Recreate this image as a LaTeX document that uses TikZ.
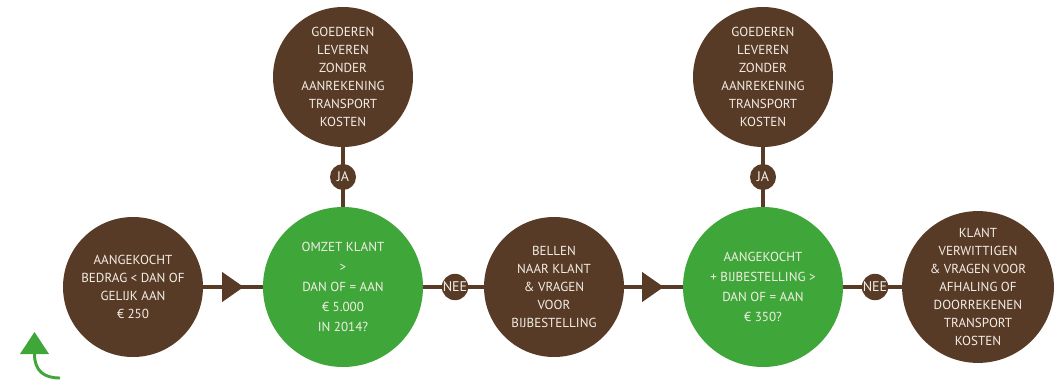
\documentclass[tikz,border=0pt]{standalone}
\usepackage{fontspec}
\setmainfont{PT Sans}
\usetikzlibrary{shapes.geometric, backgrounds, positioning}

\definecolor{bruin}{HTML}{573B26}
\definecolor{groen}{HTML}{3FA63A}
\definecolor{tekst}{HTML}{F4EEE6}

\tikzset{
  stap/.style={circle, fill=bruin, text=tekst, align=center, inner sep=0pt,
    minimum size=105pt, font=\fontsize{9.8}{13.5}\selectfont},
  vraag/.style={circle, fill=groen, text=tekst, align=center, inner sep=0pt,
    minimum size=120pt, font=\fontsize{9.8}{15}\selectfont},
  antw/.style={circle, fill=bruin, text=tekst, inner sep=0pt,
    minimum size=19.5pt, font=\fontsize{10.5}{11}\selectfont},
  pijl/.style={isosceles triangle, isosceles triangle apex angle=70, fill=bruin,
    inner sep=0pt, minimum height=15.75pt, minimum width=22.5pt},
  lijn/.style={draw=bruin, line width=3pt}
}

\begin{document}
\begin{tikzpicture}[x=0.75pt, y=0.75pt]

\useasboundingbox (0,0) rectangle (1057,380);

% onderste rij
\node[stap] (aankoop) at (133,93) {AANGEKOCHT\\BEDRAG < DAN OF\\GELIJK AAN\\€ 250};
\node[vraag] (omzet) at (343,93) {OMZET KLANT\\>\\DAN OF = AAN\\€ 5.000\\IN 2014?};
\node[antw] (nee1) at (455,93) {NEE};
\node[stap] (bellen) at (554,93) {BELLEN\\NAAR KLANT\\\& VRAGEN\\VOOR\\BIJBESTELLING};
\node[vraag] (bijbest) at (763,93) {AANGEKOCHT\\+ BIJBESTELLING >\\DAN OF = AAN\\€ 350?};
\node[antw] (nee2) at (875,93) {NEE};
\node[stap, minimum size=111pt] (verwit) at (978,93) {KLANT\\VERWITTIGEN\\\& VRAGEN VOOR\\AFHALING OF\\DOORREKENEN\\TRANSPORT\\KOSTEN};

% bovenste rij
\node[stap] (lever1) at (343,303) {GOEDEREN\\LEVEREN\\ZONDER\\AANREKENING\\TRANSPORT\\KOSTEN};
\node[antw] (ja1) at (343,203) {JA};
\node[stap] (lever2) at (763,303) {GOEDEREN\\LEVEREN\\ZONDER\\AANREKENING\\TRANSPORT\\KOSTEN};
\node[antw] (ja2) at (763,203) {JA};

% pijlpunten
\node[pijl] (p1) at (230,93) {};
\node[pijl] (p2) at (650,93) {};

\begin{scope}[on background layer]
\draw[lijn] (aankoop.center) -- (omzet.center);
\draw[lijn] (omzet.center) -- (nee1.center) -- (bellen.center);
\draw[lijn] (bellen.center) -- (bijbest.center);
\draw[lijn] (bijbest.center) -- (nee2.center) -- (verwit.center);
\draw[lijn] (lever1.center) -- (ja1.center) -- (omzet.center);
\draw[lijn] (lever2.center) -- (ja2.center) -- (bijbest.center);
\end{scope}

% groene pijl
\coordinate (terug) at (60,2);
\coordinate (voet) at (34.5,26);
\draw[groen, line width=2.2pt] (terug) .. controls (44,2) and (34.5,9) .. (voet);
\fill[groen] (20,26) -- (49,26) -- (34.5,48) -- cycle;

\end{tikzpicture}
\end{document}
